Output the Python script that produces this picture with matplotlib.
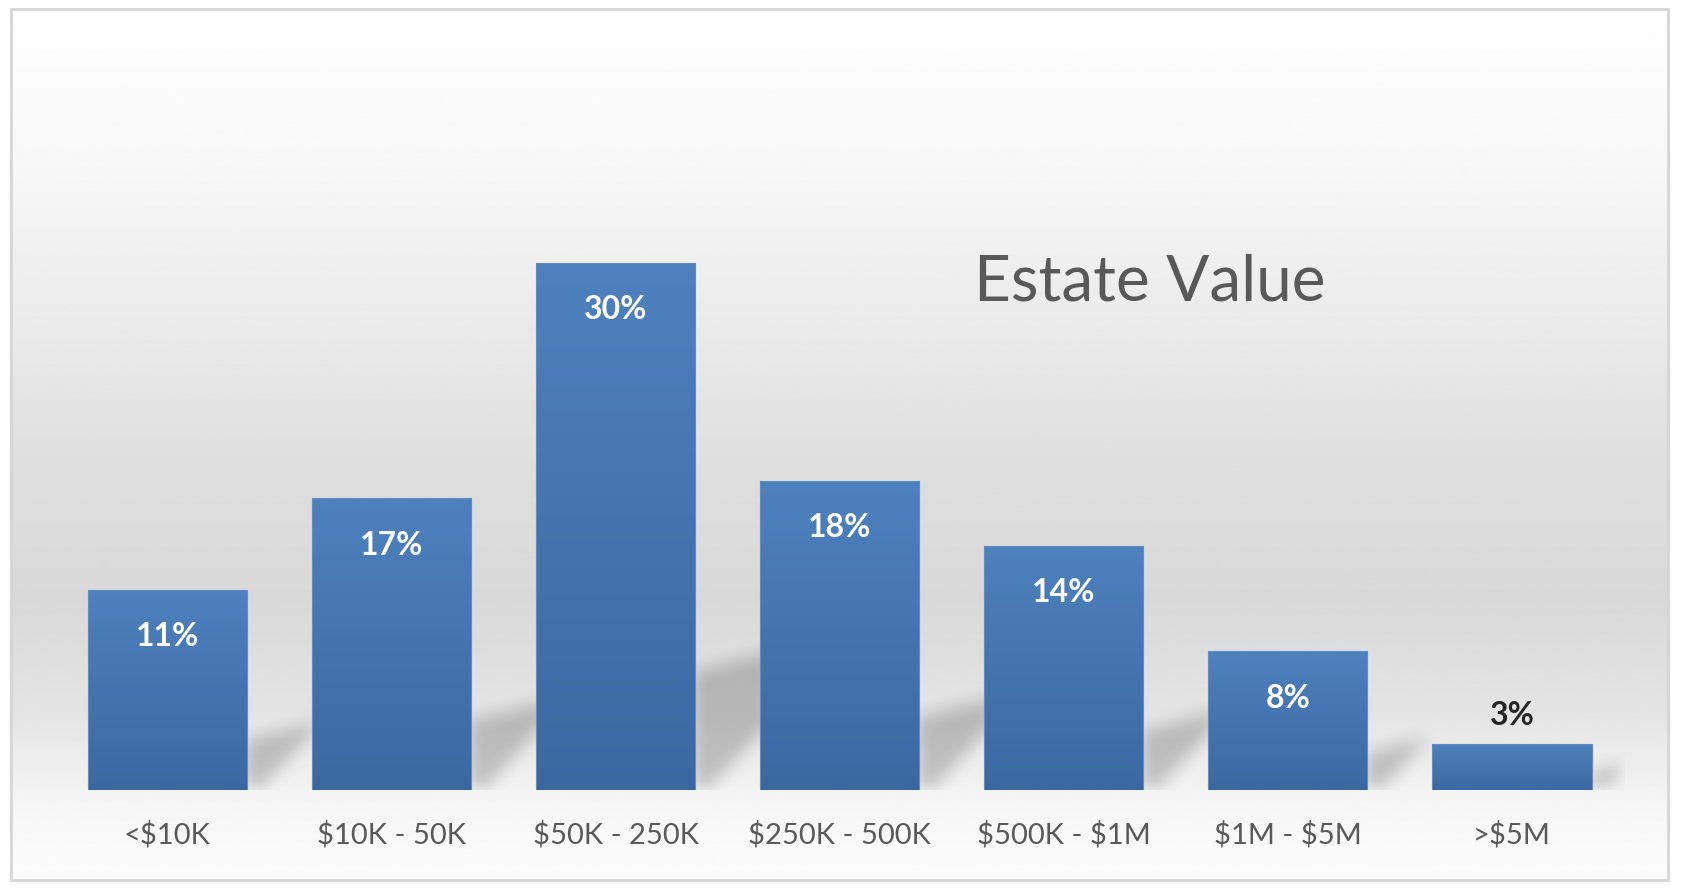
import numpy as np
import matplotlib
matplotlib.use('Agg')
import matplotlib.pyplot as plt
from matplotlib.patches import Rectangle
from matplotlib.colors import LinearSegmentedColormap

plt.rcParams['font.family'] = ['Lato', 'DejaVu Sans']
plt.rcParams['text.parse_math'] = False

# Data
categories = ['<$10K', '$10K - 50K', '$50K - 250K', '$250K - 500K',
              '$500K - $1M', '$1M - $5M', '>$5M']
shares = [11.4, 16.6, 30.0, 17.6, 13.9, 7.9, 2.6]
title = 'Estate Value'

W, H = 1682, 896
fig = plt.figure(figsize=(W / 100, H / 100), dpi=100)
fig.patch.set_facecolor('white')

# background panel with vertical grey gradient and light frame
bg = fig.add_axes([0, 0, 1, 1])
bg.axis('off')
ys = np.linspace(9, 880, 400)
stops_y = [9, 170, 290, 460, 600, 715, 805, 880]
stops_v = [1.0, 0.968, 0.93, 0.875, 0.85, 0.895, 0.962, 0.99]
shade = np.interp(ys, stops_y, stops_v)
bg.imshow(shade[:, None], cmap='gray', vmin=0, vmax=1, aspect='auto',
          extent=[11, 1668, 880, 9], interpolation='bilinear')
bg.add_patch(Rectangle((11, 9), 1657, 871, fill=False, edgecolor='#d6d6d6', lw=2))
bg.set_xlim(0, W)
bg.set_ylim(H, 0)

px_per_unit = 17.57
ax_w_px, ax_h_px = 1624 - 55.5, 780
ax = fig.add_axes([55.5 / W, 106 / H, ax_w_px / W, ax_h_px / H])
ax.patch.set_visible(False)
x = np.arange(len(categories))
width = 0.71
bars = ax.bar(x, shares, width=width, color='none', edgecolor='#5d8cc6', lw=0.8, zorder=4)
xlim = (-0.5, len(categories) - 0.5)
ylim = (0, ax_h_px / px_per_unit)

# soft cast shadow behind each bar (raster, blurred)
gx = np.arange(int(ax_w_px))[None, :].astype(float)
gy = np.arange(int(ax_h_px))[:, None].astype(float)
mask = np.zeros((int(ax_h_px), int(ax_w_px)))
px_per_x = ax_w_px / (xlim[1] - xlim[0])
for xi, h in zip(x, shares):
    xr = (xi + width / 2 - xlim[0]) * px_per_x
    hp = h * px_per_unit
    top = 0.21 * hp + 8 + 0.25 * (gx - xr)
    low = 1.1 * (gx - xr - 12)
    m = (gx >= xr - 4) & (gx <= xr + 75) & (gy <= top) & (gy >= low)
    mask = np.maximum(mask, m.astype(float))


def box_blur(a, r, axis):
    k = np.ones(2 * r + 1) / (2 * r + 1)
    return np.apply_along_axis(lambda v: np.convolve(v, k, mode='same'), axis, a)


for _ in range(2):
    mask = box_blur(mask, 9, 0)
    mask = box_blur(mask, 9, 1)
shadow = np.zeros(mask.shape + (4,))
shadow[..., 3] = mask * 0.2
ax.imshow(shadow, origin='lower', aspect='auto', extent=[xlim[0], xlim[1], ylim[0], ylim[1]],
          zorder=2, interpolation='bilinear')

# vertical gradient fill on each bar
cmap = LinearSegmentedColormap.from_list('barblue', ['#3b68a1', '#4e81be'])
grad = np.linspace(0, 1, 256)[:, None]
for b in bars:
    bx, bw, bh = b.get_x(), b.get_width(), b.get_height()
    im = ax.imshow(grad, cmap=cmap, origin='lower', aspect='auto',
                   extent=[bx, bx + bw, 0, bh], zorder=3, interpolation='bilinear')
    im.set_clip_path(b)

ax.set_xlim(*xlim)
ax.set_ylim(*ylim)

# value labels
for xi, h in zip(x, shares):
    lab = '{:.0f}%'.format(h)
    if h > 5:
        ax.text(xi, h - 56.5 / px_per_unit, lab, ha='center', va='baseline',
                color='white', fontsize=23, fontweight='bold', zorder=5)
    else:
        ax.text(xi, h + 19.5 / px_per_unit, lab, ha='center', va='baseline',
                color='#262626', fontsize=23, fontweight='bold', zorder=5)

ax.set_xticks(x)
ax.set_xticklabels(categories, fontsize=21, color='#595959')
ax.tick_params(axis='x', length=0, pad=22)
ax.set_yticks([])
for s in ax.spines.values():
    s.set_visible(False)

fig.text(1150 / W, 1 - 300.5 / H, title, ha='center', va='baseline',
         fontsize=46, color='#595959')

fig.savefig('out.png', dpi=100)
